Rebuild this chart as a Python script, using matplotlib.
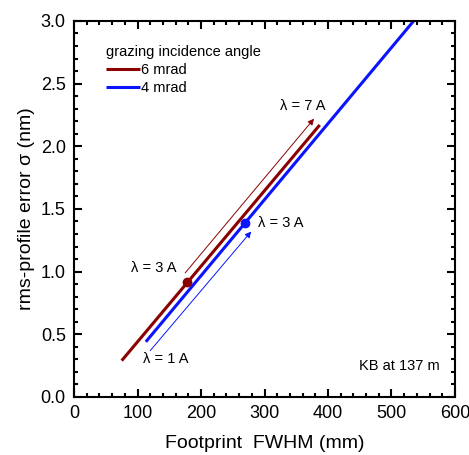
import matplotlib
matplotlib.use('Agg')
import matplotlib.pyplot as plt
from matplotlib.ticker import MultipleLocator

plt.rcParams['font.family'] = ['Liberation Sans', 'DejaVu Sans']

# 6 mrad line (footprint mm, sigma nm)
fp_6mrad = [75, 387]
sig_6mrad = [0.29, 2.17]
# 4 mrad line
fp_4mrad = [113, 535]
sig_4mrad = [0.44, 3.0]

# lambda = 3 A points
pt_6mrad = (178, 0.92)
pt_4mrad = (269, 1.39)

# arrows (start, end)
arrow_6mrad = ((175, 0.99), (378, 2.22))
arrow_4mrad = ((120, 0.37), (279, 1.32))

dark_red = '#8b0000'
blue = '#0a14ff'

fig = plt.figure(figsize=(4.69, 4.55), dpi=100)
ax = fig.add_axes([0.158, 0.1275, 0.812, 0.8265])

ax.plot(fp_6mrad, sig_6mrad, color=dark_red, lw=2.2, label='6 mrad', solid_capstyle='butt')
ax.plot(fp_4mrad, sig_4mrad, color=blue, lw=2.2, label='4 mrad', solid_capstyle='butt')
ax.plot(*pt_6mrad, 'o', color=dark_red, ms=6)
ax.plot(*pt_4mrad, 'o', color=blue, ms=6)

ax.annotate('', xy=arrow_6mrad[1], xytext=arrow_6mrad[0],
            arrowprops=dict(arrowstyle='-|>', color=dark_red, lw=0.7,
                            mutation_scale=9, shrinkA=0, shrinkB=0))
ax.annotate('', xy=arrow_4mrad[1], xytext=arrow_4mrad[0],
            arrowprops=dict(arrowstyle='-|>', color=blue, lw=0.7,
                            mutation_scale=9, shrinkA=0, shrinkB=0))

fs = 10.5
ax.text(361, 2.32, 'λ = 7 A', fontsize=fs, ha='center', va='center')
ax.text(126, 1.03, 'λ = 3 A', fontsize=fs, ha='center', va='center')
ax.text(290, 1.39, 'λ = 3 A', fontsize=fs, ha='left', va='center')
ax.text(109, 0.30, 'λ = 1 A', fontsize=fs, ha='left', va='center')
ax.text(576, 0.25, 'KB at 137 m', fontsize=fs, ha='right', va='center')

leg = ax.legend(title='grazing incidence angle', loc='upper left',
                bbox_to_anchor=(0.065, 0.955), frameon=False, fontsize=10.5,
                title_fontsize=10.5, handlelength=2.3, handletextpad=0.1,
                labelspacing=0.28, borderpad=0, alignment='left')

ax.set_xlim(0, 600)
ax.set_ylim(0, 3.0)
ax.xaxis.set_major_locator(MultipleLocator(100))
ax.xaxis.set_minor_locator(MultipleLocator(20))
ax.yaxis.set_major_locator(MultipleLocator(0.5))
ax.yaxis.set_minor_locator(MultipleLocator(0.1))
ax.yaxis.set_major_formatter(plt.FormatStrFormatter('%.1f'))

ax.tick_params(which='both', direction='in', top=True, right=True, width=1.5)
ax.tick_params(which='major', length=6, labelsize=13, pad=6)
ax.tick_params(which='minor', length=3)
for s in ax.spines.values():
    s.set_linewidth(1.5)

ax.set_xlabel('Footprint  FWHM (mm)', fontsize=14, labelpad=9)
ax.set_ylabel('rms-profile error σ (nm)', fontsize=14, labelpad=4)

fig.savefig('out.png', dpi=100)
